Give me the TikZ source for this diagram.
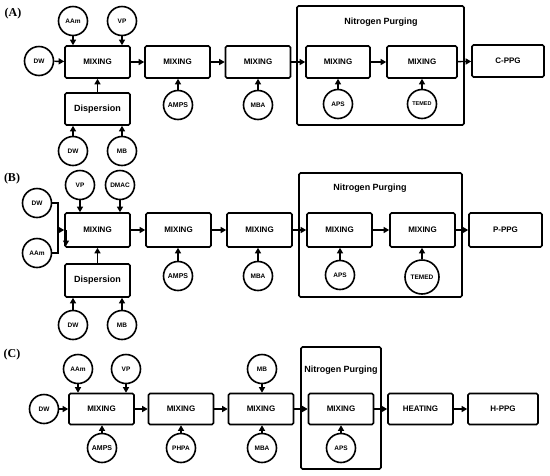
\documentclass[tikz,border=0pt]{standalone}
\usepackage{fontspec}
\setmainfont{Liberation Sans}
\newfontfamily\panelfont{Liberation Serif}
\usetikzlibrary{arrows.meta,positioning}

\begin{document}
\begin{tikzpicture}[
  x=1pt,y=-1pt,
  >={Triangle[length=5.5pt,width=6pt]},
  line width=1.4pt,
  procbox/.style={draw,line width=1.6pt,rounded corners=1.5pt,minimum width=65pt,minimum height=32pt,
    inner sep=1pt,font=\bfseries\fontsize{8}{9}\selectfont},
  chem/.style={draw,circle,line width=1.6pt,minimum size=29pt,inner sep=0pt,
    font=\bfseries\fontsize{6.5}{7}\selectfont},
  purgebox/.style={draw,line width=1.6pt,rounded corners=1.5pt},
  purgetext/.style={font=\bfseries\fontsize{9}{10}\selectfont},
  panel/.style={font=\panelfont\bfseries\fontsize{12}{13}\selectfont}
]
  \useasboundingbox (0,0) rectangle (550,475);

  % (A)
  \node[panel] (labA) at (13,14) {(A)};
  \draw[purgebox] (297,6) rectangle (464,125);
  \node[purgetext] (purgeA) at (381,22) {Nitrogen Purging};
  \node[procbox] (mixA1) at (97.5,62) {MIXING};
  \node[procbox] (mixA2) at (177.5,62) {MIXING};
  \node[procbox] (mixA3) at (258,62) {MIXING};
  \node[procbox,minimum width=64pt] (mixA4) at (338,62) {MIXING};
  \node[procbox,minimum width=70pt] (mixA5) at (422,62) {MIXING};
  \node[procbox,minimum width=72pt] (cppg) at (508,61) {C-PPG};
  \node[procbox,font=\bfseries\fontsize{9}{10}\selectfont] (dispA) at (97.5,109) {Dispersion};
  \node[chem] (aamA) at (73,21) {AAm};
  \node[chem] (vpA) at (122,21) {VP};
  \node[chem] (dwA) at (39,61) {DW};
  \node[chem] (dwA2) at (73,151) {DW};
  \node[chem] (mbA) at (122,151) {MB};
  \node[chem,font=\bfseries\fontsize{7}{8}\selectfont] (ampsA) at (178,105) {AMPS};
  \node[chem] (mbaA) at (258,105) {MBA};
  \node[chem] (apsA) at (338,104) {APS};
  \node[chem,font=\bfseries\fontsize{5.5}{6}\selectfont] (temedA) at (422,104) {TEMED};
  \draw[->] (dwA) -- (mixA1);
  \draw[->] (aamA) -- (aamA |- mixA1.north);
  \draw[->] (vpA) -- (vpA |- mixA1.north);
  \draw[->] (dispA) -- (mixA1);
  \draw[->] (dwA2) -- (dwA2 |- dispA.south);
  \draw[->] (mbA) -- (mbA |- dispA.south);
  \draw[->] (mixA1) -- (mixA2);
  \draw[->] (mixA2) -- (mixA3);
  \draw[->] (mixA3) -- (mixA4);
  \draw[->] (mixA4) -- (mixA5);
  \draw[->] (mixA5) -- (cppg);
  \draw[->] (ampsA) -- (ampsA |- mixA2.south);
  \draw[->] (mbaA) -- (mbaA |- mixA3.south);
  \draw[->] (apsA) -- (apsA |- mixA4.south);
  \draw[->] (temedA) -- (temedA |- mixA5.south);

  % (B)
  \node[panel] (labB) at (12,179) {(B)};
  \draw[purgebox] (299,173) rectangle (462,297);
  \node[purgetext] (purgeB) at (370,188) {Nitrogen Purging};
  \node[procbox,minimum height=34pt] (mixB1) at (97.5,230) {MIXING};
  \node[procbox,minimum height=34pt] (mixB2) at (178.5,230) {MIXING};
  \node[procbox,minimum height=34pt] (mixB3) at (259.5,230) {MIXING};
  \node[procbox,minimum height=34pt] (mixB4) at (339.5,230) {MIXING};
  \node[procbox,minimum height=34pt] (mixB5) at (422.5,230) {MIXING};
  \node[procbox,minimum height=34pt,minimum width=73pt] (pppg) at (505.5,230) {P-PPG};
  \node[procbox,minimum height=33pt,font=\bfseries\fontsize{9}{10}\selectfont] (dispB) at (97.5,280.5) {Dispersion};
  \node[chem] (dwB) at (37,203) {DW};
  \node[chem] (aamB) at (37,253) {AAm};
  \node[chem] (vpB) at (80,185) {VP};
  \node[chem] (dmacB) at (120,185) {DMAC};
  \node[chem] (dwB2) at (73,325) {DW};
  \node[chem] (mbB) at (122,325) {MB};
  \node[chem,font=\bfseries\fontsize{7}{8}\selectfont] (ampsB) at (178,276) {AMPS};
  \node[chem] (mbaB) at (258,276) {MBA};
  \node[chem] (apsB) at (340,275) {APS};
  \node[chem,minimum size=34pt] (temedB) at (422,277) {TEMED};
  \coordinate (joinB) at (58,230);
  \coordinate (dropB) at (66,246);
  \draw (dwB) -| (joinB);
  \draw (aamB) -| (joinB);
  \draw[->] (joinB) -- (mixB1);
  \draw[->] (mixB1.west -| dropB) -- (dropB);
  \draw[->] (vpB) -- (vpB |- mixB1.north);
  \draw[->] (dmacB) -- (dmacB |- mixB1.north);
  \draw[->] (dispB) -- (mixB1);
  \draw[->] (dwB2) -- (dwB2 |- dispB.south);
  \draw[->] (mbB) -- (mbB |- dispB.south);
  \draw[->] (mixB1) -- (mixB2);
  \draw[->] (mixB2) -- (mixB3);
  \draw[->] (mixB3) -- (mixB4);
  \draw[->] (mixB4) -- (mixB5);
  \draw[->] (mixB5) -- (pppg);
  \draw[->] (ampsB) -- (ampsB |- mixB2.south);
  \draw[->] (mbaB) -- (mbaB |- mixB3.south);
  \draw[->] (apsB) -- (apsB |- mixB4.south);
  \draw[->] (temedB) -- (temedB |- mixB5.south);

  % (C)
  \node[panel] (labC) at (12,355) {(C)};
  \draw[purgebox] (301,347) rectangle (381,469);
  \node[purgetext] (purgeC) at (341,370) {Nitrogen Purging};
  \node[procbox,minimum height=31pt] (mixC1) at (101.5,409) {MIXING};
  \node[procbox,minimum height=31pt] (mixC2) at (181,409) {MIXING};
  \node[procbox,minimum height=31pt] (mixC3) at (261,409) {MIXING};
  \node[procbox,minimum height=31pt] (mixC4) at (341,409) {MIXING};
  \node[procbox,minimum height=31pt] (heatC) at (420.5,409) {HEATING};
  \node[procbox,minimum height=31pt,minimum width=70pt] (hppg) at (503,409) {H-PPG};
  \node[chem] (aamC) at (78,369) {AAm};
  \node[chem] (vpC) at (126,369) {VP};
  \node[chem] (dwC) at (44,409) {DW};
  \node[chem] (mbC) at (262,369) {MB};
  \node[chem,font=\bfseries\fontsize{7}{8}\selectfont] (ampsC) at (102,448) {AMPS};
  \node[chem] (phpaC) at (181,448) {PHPA};
  \node[chem] (mbaC) at (262,448) {MBA};
  \node[chem] (apsC) at (341,448) {APS};
  \draw[->] (dwC) -- (mixC1);
  \draw[->] (aamC) -- (aamC |- mixC1.north);
  \draw[->] (vpC) -- (vpC |- mixC1.north);
  \draw[->] (ampsC) -- (ampsC |- mixC1.south);
  \draw[->] (mixC1) -- (mixC2);
  \draw[->] (mixC2) -- (mixC3);
  \draw[->] (mixC3) -- (mixC4);
  \draw[->] (mixC4) -- (heatC);
  \draw[->] (heatC) -- (hppg);
  \draw[->] (phpaC) -- (phpaC |- mixC2.south);
  \draw[->] (mbC) -- (mbC |- mixC3.north);
  \draw[->] (mbaC) -- (mbaC |- mixC3.south);
  \draw[->] (apsC) -- (apsC |- mixC4.south);
\end{tikzpicture}
\end{document}
